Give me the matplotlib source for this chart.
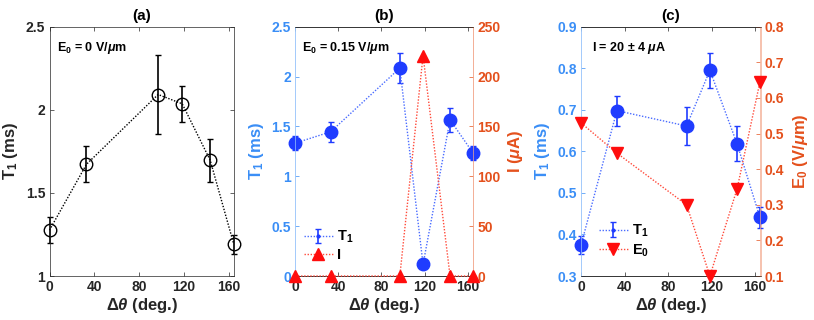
import numpy as np
import matplotlib
matplotlib.use("Agg")
import matplotlib.pyplot as plt
from matplotlib.ticker import FuncFormatter, MultipleLocator

plt.rcParams['font.family'] = ['Liberation Sans', 'DejaVu Sans']
plt.rcParams['font.weight'] = 'bold'
plt.rcParams['axes.labelweight'] = 'bold'
plt.rcParams['axes.titleweight'] = 'bold'
plt.rcParams['mathtext.fontset'] = 'custom'
plt.rcParams['mathtext.rm'] = 'Liberation Sans:bold'
plt.rcParams['mathtext.it'] = 'Liberation Sans:italic:bold'
plt.rcParams['mathtext.bf'] = 'Liberation Sans:bold'
plt.rcParams['mathtext.sf'] = 'Liberation Sans:bold'

# ---------------- data ----------------
dtheta = [0, 33, 97, 118.5, 143.5, 164.5]
xticks = [0, 40, 80, 120, 160]

T1_a = [1.276, 1.672, 2.092, 2.036, 1.696, 1.192]
T1_a_err = [0.076, 0.108, 0.236, 0.108, 0.130, 0.057]

T1_b = [1.332, 1.446, 2.085, 0.117, 1.566, 1.238]
T1_b_err = [0.070, 0.100, 0.147, 0.010, 0.117, 0.070]
I_b = [0, 0, 0, 221, 0, 0]

T1_c = [0.374, 0.698, 0.661, 0.795, 0.618, 0.441]
T1_c_err = [0.022, 0.036, 0.046, 0.042, 0.042, 0.025]
E0_c = [0.53, 0.445, 0.30, 0.10, 0.345, 0.645]

# ---------------- style ----------------
BLUE_AX = '#3a8ef6'
BLUE_MK = '#1f3cff'
BLUE_LN = '#4a6cff'
ORG_AX = '#e4501c'
RED_MK = '#ff0d0d'
RED_LN = '#ff4a3a'
DARK = '#262626'
GREY = '#262626'
DOT = (0, (1, 1.2))

W, H = 814, 320
fig = plt.figure(figsize=(W / 100, H / 100), dpi=100)

top_px, bot_px = 26.7, 276.0
def rect(l, r):
    return [l / W, 1 - bot_px / H, (r - l) / W, (bot_px - top_px) / H]

fmt = FuncFormatter(lambda v, p: ('%g' % round(v, 6)))
TICK_FS = 10
LAB_FS = 12
TITLE_FS = 11
ANN_FS = 9
LEG_FS = 10.5

def common_x(ax):
    ax.set_xlim(0, 165)
    ax.set_xticks(xticks)
    ax.set_xlabel(r'$\Delta\theta$ (deg.)', fontsize=LAB_FS, color=DARK, labelpad=1)
    ax.tick_params(axis='x', direction='in', length=3, width=0.5, top=True,
                   labelsize=TICK_FS, colors=DARK, pad=3)

# ---------------- panel (a) ----------------
axa = fig.add_axes(rect(49.5, 234.3))
ea = axa.errorbar(dtheta, T1_a, yerr=T1_a_err, fmt='o', ls=DOT, color='k', lw=1.0,
                  mfc='none', mec='k', ms=9, mew=1.0, capsize=2, elinewidth=1.2, capthick=1.0)
for art in ea.get_children():
    art.set_clip_on(False)
axa.set_ylim(1, 2.5)
axa.yaxis.set_major_locator(MultipleLocator(0.5))
axa.yaxis.set_major_formatter(fmt)
common_x(axa)
axa.tick_params(axis='y', direction='in', length=3, width=0.5, right=True,
                labelsize=TICK_FS, colors=DARK, pad=3)
axa.set_ylabel(r'T$_1$ (ms)', fontsize=LAB_FS, color=DARK, labelpad=4)
for s in axa.spines.values():
    s.set_linewidth(0.5)
    s.set_color(GREY)
axa.set_title('(a)', fontsize=TITLE_FS, color='k', pad=5)
axa.text(0.04, 0.945, r'E$_0$ = 0 V/$\mu$m', transform=axa.transAxes, fontsize=ANN_FS,
         ha='left', va='top', color='k')

# ---------------- panel (b) ----------------
def twin_panel(l, r):
    ax = fig.add_axes(rect(l, r))
    ax2 = ax.twinx()
    for a in (ax, ax2):
        for s in a.spines.values():
            s.set_linewidth(0.5)
            s.set_color(GREY)
    ax.spines['left'].set_color('#9cc6fb')
    ax2.spines['left'].set_color('#9cc6fb')
    ax2.spines['right'].set_color('#f3a98e')
    ax.spines['right'].set_color('#f3a98e')
    common_x(ax)
    ax.tick_params(axis='y', direction='in', length=3, width=0.5, right=False,
                   labelsize=TICK_FS, colors=BLUE_AX, pad=3)
    ax2.tick_params(axis='y', direction='in', length=3, width=0.5,
                    labelsize=TICK_FS, colors=ORG_AX, pad=3)
    ax.yaxis.set_major_formatter(fmt)
    ax2.yaxis.set_major_formatter(fmt)
    return ax, ax2

axb, axb2 = twin_panel(295, 473.3)
eb = axb.errorbar(dtheta, T1_b, yerr=T1_b_err, fmt='o', ls=DOT, color=BLUE_LN, lw=1.0,
                  mfc=BLUE_MK, mec=BLUE_MK, ms=9, ecolor=BLUE_MK, capsize=2,
                  elinewidth=1.2, capthick=1.0, zorder=3)
for art in eb.get_children():
    art.set_clip_on(False)
axb.set_ylim(0, 2.5)
axb.yaxis.set_major_locator(MultipleLocator(0.5))
axb2.plot(dtheta, I_b, ls=DOT, color=RED_LN, lw=1.0, marker='^', ms=9,
          mfc=RED_MK, mec=RED_MK, clip_on=False, zorder=4)
axb2.set_ylim(0, 250)
axb2.yaxis.set_major_locator(MultipleLocator(50))
axb.set_ylabel(r'T$_1$ (ms)', fontsize=LAB_FS, color=BLUE_AX, labelpad=4)
axb2.set_ylabel(r'I ($\mu$A)', fontsize=LAB_FS, color=ORG_AX, labelpad=4)
axb.set_title('(b)', fontsize=TITLE_FS, color='k', pad=5)
axb.text(0.04, 0.945, r'E$_0$ = 0.15 V/$\mu$m', transform=axb.transAxes, fontsize=ANN_FS,
         ha='left', va='top', color='k')

hb1 = axb.errorbar([np.nan], [np.nan], yerr=[np.nan], fmt='.', ls=DOT, color=BLUE_LN,
                   lw=1.0, ms=4, mfc=BLUE_MK, mec=BLUE_MK, ecolor=BLUE_MK, capsize=2,
                   elinewidth=1.2)
hb2, = axb2.plot([np.nan], [np.nan], ls=DOT, color=RED_LN, lw=1.0, marker='^', ms=9,
                 mfc=RED_MK, mec=RED_MK)
axb2.legend([hb1, hb2], [r'T$_1$', 'I'], loc='lower left', bbox_to_anchor=(0.0, 0.02),
            frameon=False, fontsize=LEG_FS, handlelength=2.0, handletextpad=0.3,
            labelspacing=0.2, borderaxespad=0.2)

# ---------------- panel (c) ----------------
axc, axc2 = twin_panel(581, 760.5)
ec = axc.errorbar(dtheta, T1_c, yerr=T1_c_err, fmt='o', ls=DOT, color=BLUE_LN, lw=1.0,
                  mfc=BLUE_MK, mec=BLUE_MK, ms=9, ecolor=BLUE_MK, capsize=2,
                  elinewidth=1.2, capthick=1.0, zorder=3)
for art in ec.get_children():
    art.set_clip_on(False)
axc.set_ylim(0.3, 0.9)
axc.yaxis.set_major_locator(MultipleLocator(0.1))
axc2.plot(dtheta, E0_c, ls=DOT, color=RED_LN, lw=1.0, marker='v', ms=9,
          mfc=RED_MK, mec=RED_MK, clip_on=False, zorder=4)
axc2.set_ylim(0.1, 0.8)
axc2.yaxis.set_major_locator(MultipleLocator(0.1))
axc.set_ylabel(r'T$_1$ (ms)', fontsize=LAB_FS, color=BLUE_AX, labelpad=4)
axc2.set_ylabel(r'E$_0$ (V/$\mu$m)', fontsize=LAB_FS, color=ORG_AX, labelpad=5)
axc.set_title('(c)', fontsize=TITLE_FS, color='k', pad=5)
axc.text(0.06, 0.945, r'I = 20 $\pm$ 4 $\mu$A', transform=axc.transAxes, fontsize=ANN_FS,
         ha='left', va='top', color='k')

hc1 = axc.errorbar([np.nan], [np.nan], yerr=[np.nan], fmt='.', ls=DOT, color=BLUE_LN,
                   lw=1.0, ms=4, mfc=BLUE_MK, mec=BLUE_MK, ecolor=BLUE_MK, capsize=2,
                   elinewidth=1.2)
hc2, = axc2.plot([np.nan], [np.nan], ls=DOT, color=RED_LN, lw=1.0, marker='v', ms=9,
                 mfc=RED_MK, mec=RED_MK)
axc2.legend([hc1, hc2], [r'T$_1$', r'E$_0$'], loc='lower left', bbox_to_anchor=(0.05, 0.035),
            frameon=False, fontsize=LEG_FS, handlelength=2.0, handletextpad=0.3,
            labelspacing=0.2, borderaxespad=0.2)

fig.savefig('out.png', dpi=100)
